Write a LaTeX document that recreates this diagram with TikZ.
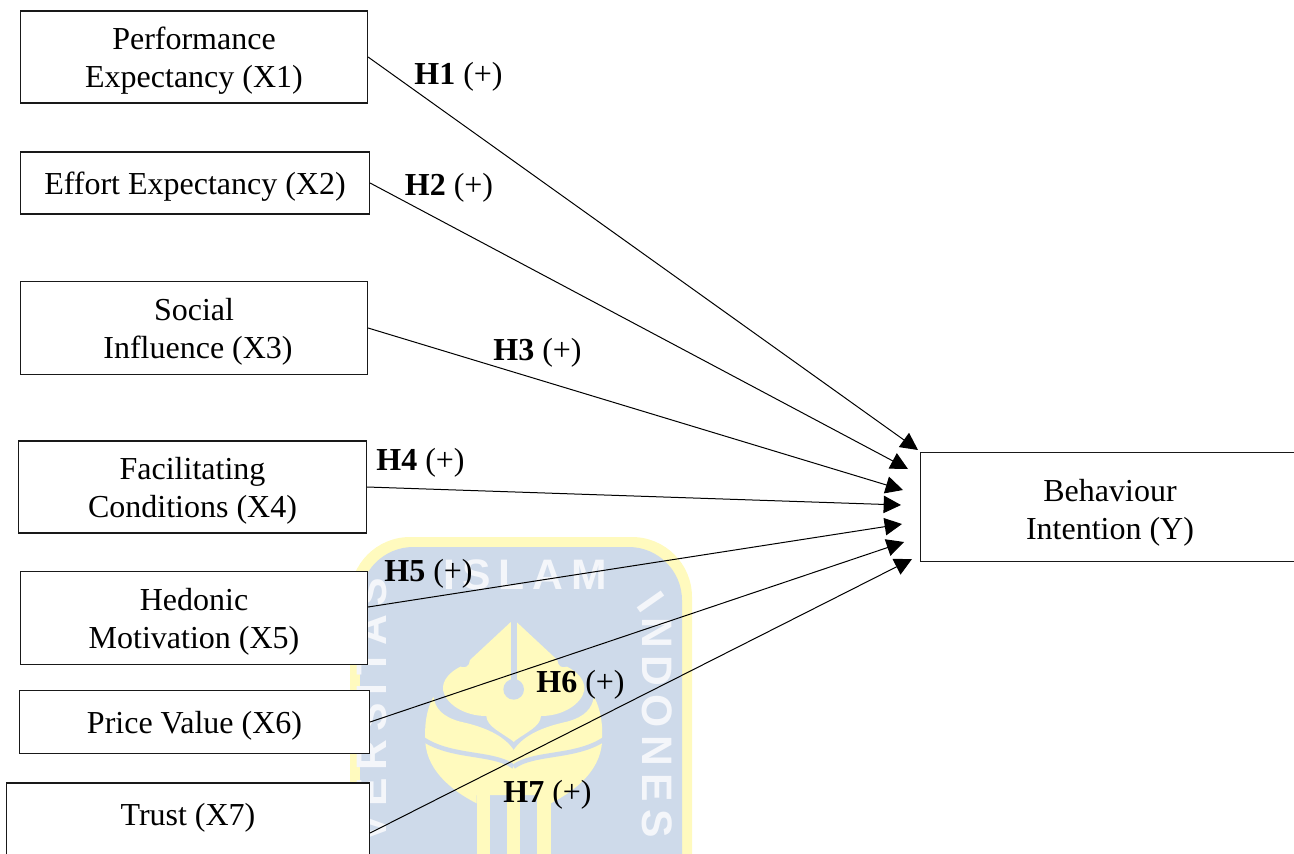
\documentclass[tikz,border=0pt]{standalone}
\usepackage{fontspec}
\setmainfont{Liberation Serif}
\newfontfamily\wmfont[LetterSpace=18]{Liberation Sans}
\usetikzlibrary{arrows.meta}
\definecolor{wmblue}{RGB}{206,218,234}
\definecolor{wmyellow}{RGB}{255,250,190}
\definecolor{wmwhite}{RGB}{244,246,250}
\newcommand{\dn}{\rule{0pt}{22pt}}
\newcommand{\dnb}{\rule{0pt}{25pt}}
\newcommand{\dnc}{\rule{0pt}{26.5pt}}
\tikzset{
  varbox/.style={draw=black!90,line width=0.85pt,fill=white,align=center,inner sep=0pt,
     font=\fontsize{24}{28.5}\selectfont},
  hyp/.style={inner sep=0pt,font=\fontsize{24}{28.5}\selectfont},
  link/.style={black,line width=0.75pt,-{Triangle[length=13pt,width=13pt]}},
  wmtext/.style={inner sep=0pt,text=wmwhite,font=\fontsize{32}{32}\wmfont\bfseries}
}
\begin{document}
\begin{tikzpicture}[x=0.75pt,y=-0.75pt]
\useasboundingbox (0,0) rectangle (1294,853);
\clip (0,0) rectangle (1294,853);
% watermark
\fill[wmyellow,rounded corners=45pt] (350,537) rectangle (692,920);
\fill[wmblue,rounded corners=40pt] (360,547) rectangle (682,920);
\begin{scope}[x=0.25pt,y=-0.25pt,shift={(410*0.75pt,-610*0.75pt)}]
 \foreach \s in {1,-1}{
 \begin{scope}[shift={(311,0)},xscale=\s]
  % wing and bowl
  \fill[wmyellow] (2,421) -- (0,420) .. controls (-30,375) and (-90,350) .. (-160,335)
     .. controls (-215,320) and (-235,295) .. (-241,260)
     .. controls (-262,300) and (-268,345) .. (-265,395)
     .. controls (-260,490) and (-170,550) .. (-111,580)
     -- (-111,555) -- (2,555) -- cycle;
  % upper leaf
  \fill[wmyellow] (2,28) -- (0,28) -- (-131,150) .. controls (-133,170) and (-145,175) .. (-160,170)
     .. controls (-190,185) and (-215,210) .. (-212,240)
     .. controls (-205,280) and (-150,318) .. (-82,318)
     .. controls (-80,350) and (-40,365) .. (0,395) -- (2,395) -- cycle;
  % gap
  \draw[wmblue,line width=3.4pt] (-275,385) .. controls (-190,445) and (-60,425) .. (0,470);
  % stems
  \fill[wmyellow] (-111,550) rectangle (-71,740);
  \fill[wmyellow] (-20,480) rectangle (2,740);
 \end{scope}}
 \fill[wmblue] (303,20) rectangle (320,230);
 \fill[wmblue] (311,238) circle[radius=31];
\end{scope}
\node[wmtext,anchor=center] (wma) at (525,575) {ISLAM};
\node[wmtext,anchor=center,rotate=-55] (wmb) at (651,602) {I};
\node[wmtext,anchor=west,rotate=-90] (wmc) at (657,617) {NDONES};
\node[wmtext,anchor=east,rotate=90] (wmd) at (372,578) {VERSITAS};
% boxes
\node[varbox,minimum width=347*0.75pt,minimum height=92*0.75pt] (x1) at (194,57) {\dn Performance\\Expectancy (X1)};
\node[varbox,minimum width=349*0.75pt,minimum height=62*0.75pt] (x2) at (195,183) {\dn Effort Expectancy (X2)};
\node[varbox,minimum width=347*0.75pt,minimum height=93*0.75pt] (x3) at (194,328) {\dn Social\\\hspace{6pt}Influence (X3)};
\node[varbox,minimum width=348*0.75pt,minimum height=92*0.75pt] (x4) at (192.5,487) {\dn Facilitating\\Conditions (X4)};
\node[varbox,minimum width=347*0.75pt,minimum height=93*0.75pt] (x5) at (194,618) {\dn Hedonic\\Motivation (X5)};
\node[varbox,minimum width=350*0.75pt,minimum height=63*0.75pt] (x6) at (194.5,722) {\dn Price Value (X6)};
\node[varbox,minimum width=363*0.75pt,minimum height=100*0.75pt] (x7) at (188,833) {\dnc Trust (X7)\\\strut};
\node[varbox,minimum width=379*0.75pt,minimum height=109*0.75pt] (y) at (1110,507) {\dnb Behaviour\\Intention (Y)};
% arrow tips
\coordinate (t1) at (918,450);
\coordinate (t2) at (908,469);
\coordinate (t3) at (903,490);
\coordinate (t4) at (901,505);
\coordinate (t5) at (902,524);
\coordinate (t6) at (904,542);
\coordinate (t7) at (912,559);
\draw[link] (x1.east) -- (t1);
\draw[link] (x2.east) -- (t2);
\draw[link] (x3.east) -- (t3);
\draw[link] (x4.east) -- (t4);
\draw[link] (x5.east |- 0,607) -- (t5);
\draw[link] (x6.east) -- (t6);
\draw[link] (x7.east) -- (t7);
% labels
\node[hyp] (h1) at (458.5,77) {\textbf{H1} (+)};
\node[hyp] (h2) at (449,188) {\textbf{H2} (+)};
\node[hyp] (h3) at (537.5,353) {\textbf{H3} (+)};
\node[hyp] (h4) at (420.5,463) {\textbf{H4} (+)};
\node[hyp] (h5) at (428.5,574) {\textbf{H5} (+)};
\node[hyp] (h6) at (580.5,685) {\textbf{H6} (+)};
\node[hyp] (h7) at (547.5,795) {\textbf{H7} (+)};
\end{tikzpicture}
\end{document}
